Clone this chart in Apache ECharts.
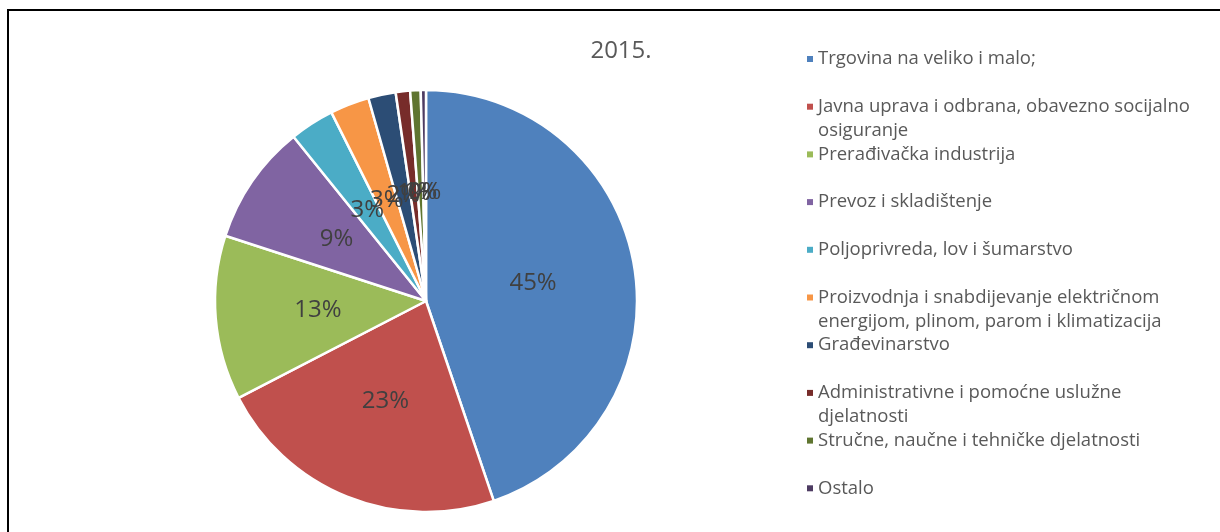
<!DOCTYPE html>
<html>
<head>
<meta charset="utf-8">
<script src="https://cdn.jsdelivr.net/npm/echarts@6/dist/echarts.min.js"></script>
<style>
  html, body { margin: 0; padding: 0; background: #fff; }
  #frame {
    position: absolute; left: 7px; top: 9px; width: 1213px; height: 523px;
    border-left: 2px solid #000; border-top: 2px solid #000; box-sizing: border-box;
  }
  #chart { position: absolute; left: 0; top: 0; width: 1220px; height: 532px; }
</style>
</head>
<body>
<div id="frame"></div>
<div id="chart"></div>
<script>
// sektori, 2015.
const categories = [
  'Trgovina na veliko i malo;',
  'Javna uprava i odbrana, obavezno socijalno osiguranje',
  'Prerađivačka industrija',
  'Prevoz i skladištenje',
  'Poljoprivreda, lov i šumarstvo',
  'Proizvodnja i snabdijevanje električnom energijom, plinom, parom i klimatizacija',
  'Građevinarstvo',
  'Administrativne i pomoćne uslužne djelatnosti',
  'Stručne, naučne i tehničke djelatnosti',
  'Ostalo'
]
// legend lines as wrapped in the original
const legendLines = [
  ['Trgovina na veliko i malo;'],
  ['Javna uprava i odbrana, obavezno socijalno', 'osiguranje'],
  ['Prerađivačka industrija'],
  ['Prevoz i skladištenje'],
  ['Poljoprivreda, lov i šumarstvo'],
  ['Proizvodnja i snabdijevanje električnom', 'energijom, plinom, parom i klimatizacija'],
  ['Građevinarstvo'],
  ['Administrativne i pomoćne uslužne', 'djelatnosti'],
  ['Stručne, naučne i tehničke djelatnosti'],
  ['Ostalo']
]
const shares = [44.8, 22.6, 12.6, 9.2, 3.4, 3.0, 2.1, 1.1, 0.8, 0.4]
const colors = ['#4F81BD', '#C0504D', '#9BBB59', '#8064A2', '#4BACC6',
                '#F79646', '#2C4D75', '#772C2A', '#5F7530', '#4D3B62']

const chart = echarts.init(document.getElementById('chart'))
const option = {
  animation: false,
  color: colors,
  title: {
    text: '2015.',
    left: 616,
    top: 34,
    textAlign: 'center',
    textStyle: { fontFamily: 'Open Sans', fontSize: 24, fontWeight: 'normal', color: '#595959' }
  },
  legend: {
    orient: 'vertical',
    left: 807,
    top: 23,
    padding: 0,
    itemWidth: 6,
    itemHeight: 6,
    itemGap: -24.3,
    icon: 'rect',
    itemStyle: { borderWidth: 0 },
    data: categories,
    // empty first line so the icon sits on the first text line
    formatter: function (name) {
      const lines = legendLines[categories.indexOf(name)]
      return ' \n' + lines[0] + '\n' + (lines[1] || ' ')
    },
    textStyle: {
      fontFamily: 'Open Sans',
      fontSize: 18.5,
      color: '#595959',
      lineHeight: 24
    }
  },
  series: [{
    type: 'pie',
    center: [426, 301],
    radius: 211,
    startAngle: 90,
    clockwise: true,
    avoidLabelOverlap: false,
    labelLayout: { hideOverlap: false },
    itemStyle: { borderColor: '#fff', borderWidth: 2.5 },
    label: {
      position: 'inside',
      formatter: function (p) { return Math.round(p.percent) + '%' },
      fontFamily: 'Open Sans',
      fontSize: 24,
      color: '#404040'
    },
    labelLine: { show: false },
    emphasis: { disabled: true },
    data: categories.map(function (c, i) { return { name: c, value: shares[i] } })
  }]
}
chart.setOption(option)
</script>
</body>
</html>
